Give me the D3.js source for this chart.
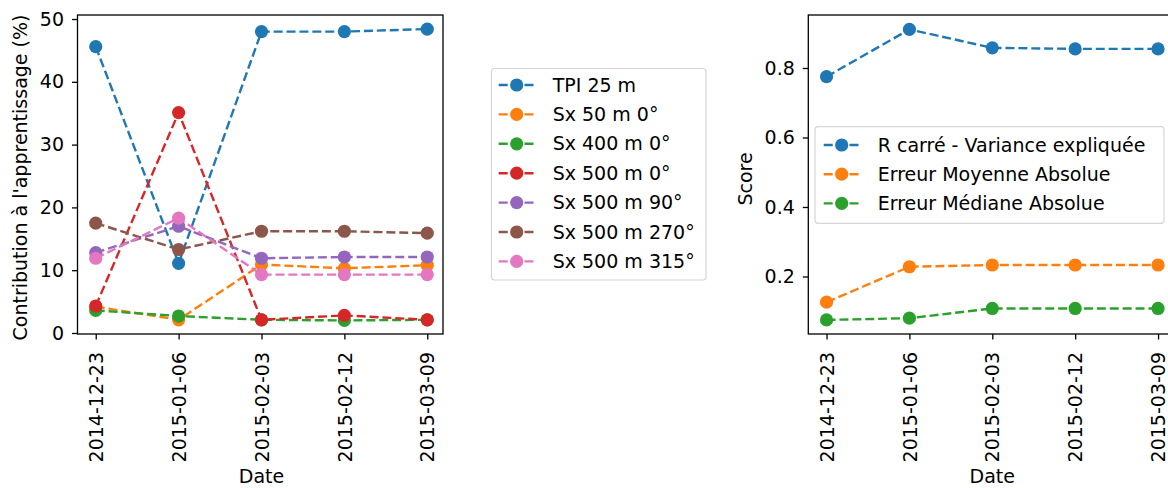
<!DOCTYPE html>
<html><head><meta charset="utf-8">
<script src="https://cdn.jsdelivr.net/npm/d3@7"></script>
<style>
html,body{margin:0;padding:0;background:#fff;}
svg{display:block;font-family:"DejaVu Sans",sans-serif;}
</style></head>
<body><svg id="c" width="1168" height="488"></svg>
<script>
const dates = ["2014-12-23","2015-01-06","2015-02-03","2015-02-12","2015-03-09"];
const leftNames = ["TPI 25 m","Sx 50 m 0°","Sx 400 m 0°","Sx 500 m 0°","Sx 500 m 90°","Sx 500 m 270°","Sx 500 m 315°"];
const tpi25 = [45.6, 11.1, 48.0, 48.0, 48.4];
const sx50_0 = [4.2, 2.1, 10.9, 10.3, 10.8];
const sx400_0 = [3.6, 2.7, 2.1, 2.0, 2.1];
const sx500_0 = [4.3, 35.1, 2.1, 2.8, 2.1];
const sx500_90 = [12.8, 17.0, 11.9, 12.1, 12.1];
const sx500_270 = [17.5, 13.3, 16.2, 16.2, 15.9];
const sx500_315 = [11.9, 18.3, 9.3, 9.3, 9.3];
const leftTicks = [0, 10, 20, 30, 40, 50];
const rightNames = ["R carré - Variance expliquée","Erreur Moyenne Absolue","Erreur Médiane Absolue"];
const r2 = [0.775, 0.911, 0.858, 0.855, 0.855];
const mae = [0.126, 0.228, 0.233, 0.233, 0.233];
const medae = [0.075, 0.080, 0.108, 0.108, 0.108];
const rightTicks = [0.2, 0.4, 0.6, 0.8];
const colors = ["#1f77b4","#ff7f0e","#2ca02c","#d62728","#9467bd","#8c564b","#e377c2"];

const leftSeries = [tpi25, sx50_0, sx400_0, sx500_0, sx500_90, sx500_270, sx500_315];
const rightSeries = [r2, mae, medae];

const svg = d3.select("#c");
const FS = 19;
const plotTop = 15, plotBottom = 334;

function panel(x0, x1, yDomain, ticks, fmt, series, ylabel, ylabelX, ylabelY) {
  const x = d3.scaleLinear().domain([-0.22, 4.19]).range([x0, x1]);
  const y = d3.scaleLinear().domain(yDomain).range([plotBottom, plotTop]);
  const g = svg.append("g");
  const line = d3.line().x((d,i)=>x(i)).y(d=>y(d));
  series.forEach((s, k) => {
    g.append("path").attr("d", line(s)).attr("fill","none")
      .attr("stroke", colors[k]).attr("stroke-width", 2.4)
      .attr("stroke-dasharray","9,3.9");
    g.selectAll(null).data(s).enter().append("circle")
      .attr("cx",(d,i)=>x(i)).attr("cy",d=>y(d)).attr("r",6.6)
      .attr("fill",colors[k]);
  });
  const ya = g.append("g").attr("transform",`translate(${x0},0)`)
    .call(d3.axisLeft(y).tickValues(ticks).tickFormat(fmt).tickSize(5.5).tickPadding(8));
  ya.select(".domain").remove();
  ya.selectAll("text").attr("font-size",FS).attr("fill","#000").attr("font-family","DejaVu Sans");
  ya.selectAll("line").attr("stroke","#000").attr("stroke-width",1.3);
  const xa = g.append("g").attr("transform",`translate(0,${plotBottom})`)
    .call(d3.axisBottom(x).tickValues(d3.range(dates.length)).tickFormat(i=>dates[i]).tickSize(5.5).tickPadding(5));
  xa.select(".domain").remove();
  xa.selectAll("line").attr("stroke","#000").attr("stroke-width",1.3);
  xa.selectAll("text").attr("font-size",FS).attr("fill","#000").attr("font-family","DejaVu Sans")
    .attr("transform","rotate(-90)").attr("text-anchor","end")
    .attr("x",-18).attr("y",0).attr("dy","0.35em");
  g.append("rect").attr("x",x0).attr("y",plotTop).attr("width",x1-x0).attr("height",plotBottom-plotTop)
    .attr("fill","none").attr("stroke","#000").attr("stroke-width",1.3);
  g.append("text").attr("x",(x(0)+x(4))/2).attr("y",483).attr("text-anchor","middle")
    .attr("font-size",FS).text("Date");
  g.append("text").attr("transform",`translate(${ylabelX},${ylabelY}) rotate(-90)`)
    .attr("text-anchor","middle").attr("dy","0.35em").attr("font-size",FS).text(ylabel);
}

panel(77.5, 443, [-0.16, 50.64], leftTicks, d3.format("d"), leftSeries,
  "Contribution à l'apprentissage (%)", 20, 177.5);
panel(808.3, 1173.8, [0.0345, 0.9525], rightTicks, d3.format(".1f"), rightSeries,
  "Score", 745, 179);

function legend(bx, by, bw, bh, names, firstY, step, hx0, hx1, tx) {
  const g = svg.append("g");
  g.append("rect").attr("x",bx).attr("y",by).attr("width",bw).attr("height",bh)
    .attr("rx",3).attr("fill","#fff").attr("fill-opacity",0.8).attr("stroke","#d6d6d6").attr("stroke-width",1.2);
  names.forEach((n,k)=>{
    const yy = firstY + k*step;
    g.append("line").attr("x1",hx0).attr("x2",hx1).attr("y1",yy).attr("y2",yy)
      .attr("stroke",colors[k]).attr("stroke-width",2.4).attr("stroke-dasharray","9,3.9")
      .attr("stroke-dashoffset",-2);
    g.append("circle").attr("cx",(hx0+hx1)/2).attr("cy",yy).attr("r",6.6).attr("fill",colors[k]);
    g.append("text").attr("x",tx).attr("y",yy).attr("dy","0.35em").attr("font-size",FS).attr("fill","#000").text(n);
  });
}
legend(491.5, 68.5, 214.5, 211.5, leftNames, 85, 29.4, 496.7, 536.7, 552.7);
legend(815, 126.7, 349, 96.6, rightNames, 145, 29.2, 821.7, 861.7, 877.7);
</script></body></html>
